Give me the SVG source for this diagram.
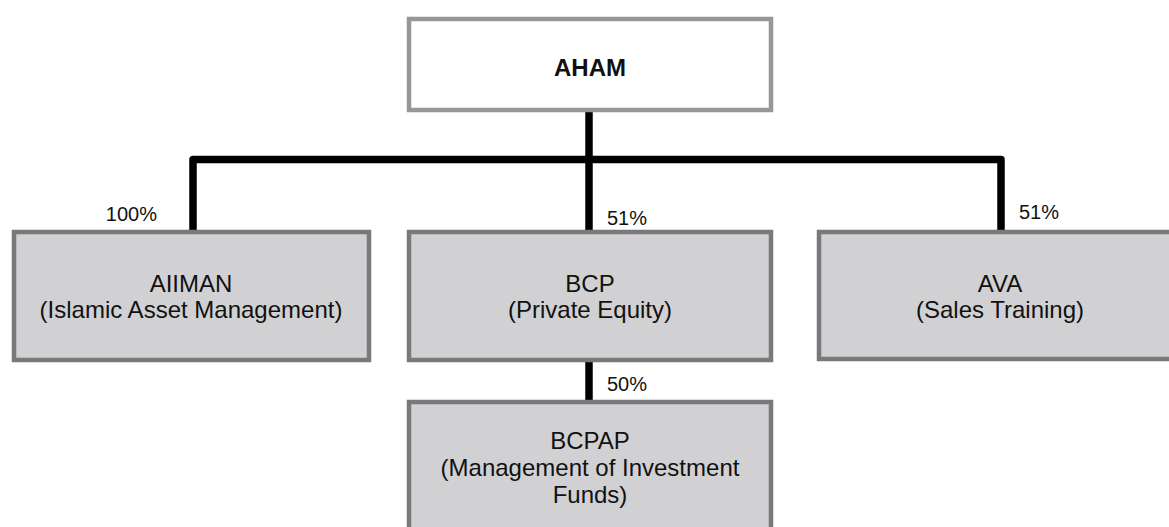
<svg xmlns="http://www.w3.org/2000/svg" width="1169" height="527" viewBox="0 0 1169 527">
  <style>
    .top { fill: #ffffff; stroke: #979797; stroke-width: 4.5; }
    .sub { fill: #d1d1d3; stroke: #79797b; stroke-width: 4.5; }
    .name { font-family: "Liberation Sans", Arial, sans-serif; font-size: 24px; fill: #111; text-anchor: middle; }
    .bold { font-weight: bold; }
    .pct { font-family: "Liberation Sans", Arial, sans-serif; font-size: 20px; fill: #111; }
    .wire { fill: none; stroke: #000; stroke-width: 7.5; stroke-linejoin: round; }
  </style>

  <!-- ownership lines -->
  <g id="connectors">
    <path class="wire" d="M589 112 V230"/>
    <path class="wire" d="M193 230 V159.5 H1001 V230"/>
    <path class="wire" d="M589 362 V400"/>
    <text class="pct" x="157" y="221" text-anchor="end">100%</text>
    <text class="pct" x="607" y="225">51%</text>
    <text class="pct" x="1019" y="219">51%</text>
    <text class="pct" x="607" y="391">50%</text>
  </g>

  <g id="aham">
    <rect class="top" x="409" y="19" width="362" height="91"/>
    <text class="name bold" x="590" y="76">AHAM</text>
  </g>

  <g id="aiiman">
    <rect class="sub" x="14" y="232" width="355" height="128"/>
    <text class="name" x="191" y="292">AIIMAN</text>
    <text class="name" x="191" y="318">(Islamic Asset Management)</text>
  </g>

  <g id="bcp">
    <rect class="sub" x="409" y="232" width="362" height="128"/>
    <text class="name" x="590" y="292">BCP</text>
    <text class="name" x="590" y="318">(Private Equity)</text>
  </g>

  <g id="ava">
    <rect class="sub" x="819" y="232" width="362" height="127"/>
    <text class="name" x="1000" y="292">AVA</text>
    <text class="name" x="1000" y="318">(Sales Training)</text>
  </g>

  <g id="bcpap">
    <rect class="sub" x="409" y="402" width="362" height="140"/>
    <text class="name" x="590" y="449">BCPAP</text>
    <text class="name" x="590" y="476">(Management of Investment</text>
    <text class="name" x="590" y="503">Funds)</text>
  </g>
</svg>
